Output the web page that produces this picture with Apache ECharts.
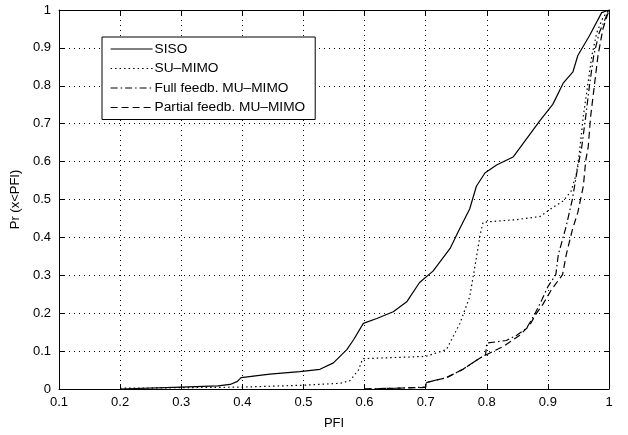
<!DOCTYPE html>
<html>
<head>
<meta charset="utf-8">
<script src="https://cdn.jsdelivr.net/npm/echarts@6/dist/echarts.min.js"></script>
<style>
html,body{margin:0;padding:0;background:#fff;}
#chart{width:628px;height:435px;}
</style>
</head>
<body>
<div id="chart"></div>
<script>
// ---- data ----
const seriesNames = ['SISO', 'SU–MIMO', 'Full feedb. MU–MIMO', 'Partial feedb. MU–MIMO'];
const xTicks = [0.1, 0.2, 0.3, 0.4, 0.5, 0.6, 0.7, 0.8, 0.9, 1];
const yTicks = [0, 0.1, 0.2, 0.3, 0.4, 0.5, 0.6, 0.7, 0.8, 0.9, 1];

const sisoData = [[0.2,0],[0.2,0.003],[0.3,0.005],[0.36,0.008],[0.38,0.012],[0.392,0.02],[0.398,0.03],[0.445,0.039],[0.494,0.046],[0.527,0.052],[0.549,0.069],[0.571,0.104],[0.582,0.13],[0.598,0.173],[0.62,0.186],[0.647,0.204],[0.669,0.23],[0.69,0.281],[0.712,0.311],[0.74,0.371],[0.753,0.414],[0.772,0.475],[0.783,0.535],[0.797,0.57],[0.816,0.591],[0.843,0.612],[0.859,0.647],[0.887,0.708],[0.908,0.751],[0.925,0.807],[0.941,0.837],[0.949,0.88],[0.968,0.932],[0.988,0.993],[1,1]];

const suMimoData = [[0.2,0.002],[0.4,0.005],[0.4,0.009],[0.5,0.01],[0.56,0.015],[0.576,0.022],[0.59,0.05],[0.597,0.08],[0.6,0.082],[0.7,0.086],[0.734,0.104],[0.756,0.173],[0.772,0.243],[0.783,0.346],[0.789,0.406],[0.794,0.44],[0.849,0.447],[0.887,0.455],[0.908,0.479],[0.925,0.496],[0.938,0.522],[0.947,0.57],[0.952,0.63],[0.958,0.72],[0.965,0.8],[0.972,0.88],[0.98,0.94],[0.99,0.98],[1,1]];

const fullFbData = [[0.6,0],[0.65,0.002],[0.7,0.005],[0.701,0.017],[0.734,0.03],[0.761,0.052],[0.789,0.082],[0.798,0.09],[0.8,0.121],[0.832,0.128],[0.849,0.142],[0.865,0.16],[0.879,0.199],[0.89,0.235],[0.9,0.27],[0.913,0.302],[0.917,0.354],[0.93,0.43],[0.94,0.5],[0.949,0.587],[0.955,0.634],[0.962,0.72],[0.968,0.8],[0.975,0.88],[0.984,0.94],[1,1]];

const partialFbData = [[0.6,0],[0.7,0.004],[0.701,0.017],[0.734,0.03],[0.761,0.052],[0.789,0.082],[0.805,0.095],[0.827,0.112],[0.854,0.142],[0.87,0.168],[0.881,0.199],[0.892,0.224],[0.905,0.26],[0.924,0.302],[0.93,0.354],[0.94,0.42],[0.949,0.466],[0.958,0.535],[0.962,0.604],[0.966,0.639],[0.97,0.72],[0.976,0.8],[0.982,0.88],[0.99,0.95],[1,1]];

// ---- chart ----
const font = 'Liberation Sans';
const fmt = v => String(+(+v).toFixed(1));
const chart = echarts.init(document.getElementById('chart'), null, {renderer: 'canvas'});

const baseAxis = {
  type: 'value',
  axisLine: {show: true, onZero: false, lineStyle: {color: '#000', width: 1}},
  axisTick: {show: true, inside: true, length: 5, lineStyle: {color: '#000'}},
};

function mkLine(name, data, type) {
  return {
    name: name, type: 'line', data: data, showSymbol: false, symbol: 'none',
    xAxisIndex: 0, yAxisIndex: 0,
    lineStyle: {color: '#000', width: 1.2, type: type},
    itemStyle: {color: '#000'},
    animation: false
  };
}

chart.setOption({
  backgroundColor: '#fff',
  animation: false,
  grid: {left: 59, right: 19, top: 10, bottom: 38, containLabel: false},
  legend: {
    data: seriesNames,
    orient: 'vertical',
    left: 102, top: 37,
    padding: [5, 10, 5, 8],
    itemGap: 5.5,
    itemWidth: 42, itemHeight: 14,
    backgroundColor: '#fff',
    borderColor: '#000', borderWidth: 1, borderRadius: 0,
    itemStyle: {opacity: 0},
    lineStyle: {width: 1.2},
    textStyle: {color: '#000', fontFamily: font, fontSize: 13.7, padding: [0, 0, 0, -3]}
  },
  xAxis: [
    Object.assign({}, baseAxis, {
      position: 'bottom', min: xTicks[0], max: xTicks[xTicks.length - 1], interval: 0.1,
      name: 'PFI', nameLocation: 'middle', nameGap: 28,
      nameTextStyle: {color: '#000', fontFamily: font, fontSize: 13},
      axisLabel: {color: '#000', fontFamily: font, fontSize: 13, margin: 7, formatter: fmt},
      splitLine: {show: true, lineStyle: {color: '#000', width: 1, type: [1, 4]}}
    }),
    Object.assign({}, baseAxis, {
      position: 'top', min: xTicks[0], max: xTicks[xTicks.length - 1], interval: 0.1,
      axisLabel: {show: false}, splitLine: {show: false}
    })
  ],
  yAxis: [
    Object.assign({}, baseAxis, {
      position: 'left', min: yTicks[0], max: yTicks[yTicks.length - 1], interval: 0.1,
      name: 'Pr (x<PFI)', nameLocation: 'middle', nameGap: 33.5, nameRotate: 90,
      nameTextStyle: {color: '#000', fontFamily: font, fontSize: 13},
      axisLabel: {color: '#000', fontFamily: font, fontSize: 13, margin: 8, formatter: fmt},
      splitLine: {show: true, lineStyle: {color: '#000', width: 1, type: [1, 4]}}
    }),
    Object.assign({}, baseAxis, {
      position: 'right', min: yTicks[0], max: yTicks[yTicks.length - 1], interval: 0.1,
      axisLabel: {show: false}, splitLine: {show: false}
    })
  ],
  series: [
    mkLine(seriesNames[0], sisoData, 'solid'),
    mkLine(seriesNames[1], suMimoData, [1.5, 3]),
    mkLine(seriesNames[2], fullFbData, [7, 3, 1.5, 3]),
    mkLine(seriesNames[3], partialFbData, [7, 4])
  ]
});
</script>
</body>
</html>
